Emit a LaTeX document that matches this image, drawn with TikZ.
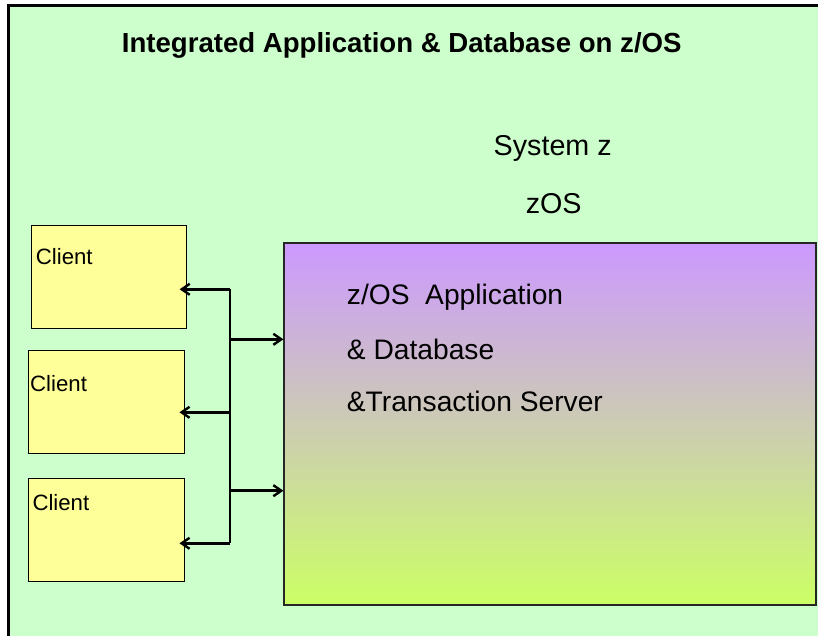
\documentclass[tikz,border=0pt]{standalone}
\usepackage{fontspec}
\setmainfont{Liberation Sans}
\usetikzlibrary{arrows.meta}
\definecolor{bggreen}{RGB}{204,255,204}
\definecolor{clientyellow}{RGB}{255,255,153}
\definecolor{toppurple}{RGB}{204,153,255}
\definecolor{midgray}{RGB}{204,206,196}
\definecolor{botlime}{RGB}{204,255,102}
\tikzset{
  clientbox/.style={draw=black, line width=0.9pt, fill=clientyellow, minimum width=156pt, minimum height=103pt, inner sep=0pt},
  mainbox/.style={draw=black!85, line width=1.1pt, top color=toppurple, middle color=midgray, bottom color=botlime, minimum width=532pt, minimum height=362pt, inner sep=0pt},
  busline/.style={line width=1.8pt, black},
  arrowline/.style={line width=2.6pt, black, -{Straight Barb[length=8pt,width=11pt,line width=2.4pt]}},
  cliettext/.style={anchor=base west, inner sep=0pt, font=\fontsize{22.2}{26}\selectfont},
  bigtext/.style={anchor=base west, inner sep=0pt, font=\fontsize{28.2}{32}\selectfont},
}
\begin{document}
\begin{tikzpicture}[x=1pt,y=-1pt]
\useasboundingbox (0,0) rectangle (818,636);
% outer frame
\begin{scope}
\clip (0,0) rectangle (818,636);
\path[fill=bggreen, draw=black, line width=3pt] (8.5,5.5) rectangle (830,650);
\end{scope}
% title
\node[anchor=base, inner sep=0pt, font=\bfseries\fontsize{27.6}{32}\selectfont] (title) at (401.7,52.7) {Integrated Application \& Database on z/OS};
\node[anchor=base, inner sep=0pt, font=\fontsize{28.7}{32}\selectfont] (sysz) at (552.7,156) {System z};
\node[anchor=base, inner sep=0pt, font=\fontsize{28.7}{32}\selectfont] (zos) at (553.7,214) {zOS};
% main box
\node[mainbox] (main) at (550,424) {};
\node[bigtext] (t1) at (346.7,304) {z/OS\ \ Application};
\node[bigtext] (t2) at (346.7,359) {\& Database};
\node[bigtext] (t3) at (346.7,411.7) {\&Transaction Server};
% clients
\node[clientbox, minimum width=155.7pt, minimum height=103.3pt] (c1) at (108.8,276.7) {};
\node[clientbox] (c2) at (106.3,402) {};
\node[clientbox] (c3) at (106.3,529.7) {};
\node[cliettext] (l1) at (35.7,264) {Client};
\node[cliettext] (l2) at (30,391.7) {Client};
\node[cliettext] (l3) at (32.3,510) {Client};
% bus
\coordinate (b1) at (230,289.3);
\coordinate (b2) at (230,339.3);
\coordinate (b3) at (230,412.3);
\coordinate (b4) at (230,490.7);
\coordinate (b5) at (230,543.3);
\draw[busline] (b1) -- (b5);
\draw[arrowline, shorten >=-7.5pt] (b1) -- (b1 -| c1.east);
\draw[arrowline, shorten >=-5.3pt] (b3) -- (b3 -| c2.east);
\draw[arrowline, shorten >=-5.3pt] (b5) -- (b5 -| c3.east);
\draw[arrowline] (b2) -- (b2 -| main.west);
\draw[arrowline] (b4) -- (b4 -| main.west);
\end{tikzpicture}
\end{document}
